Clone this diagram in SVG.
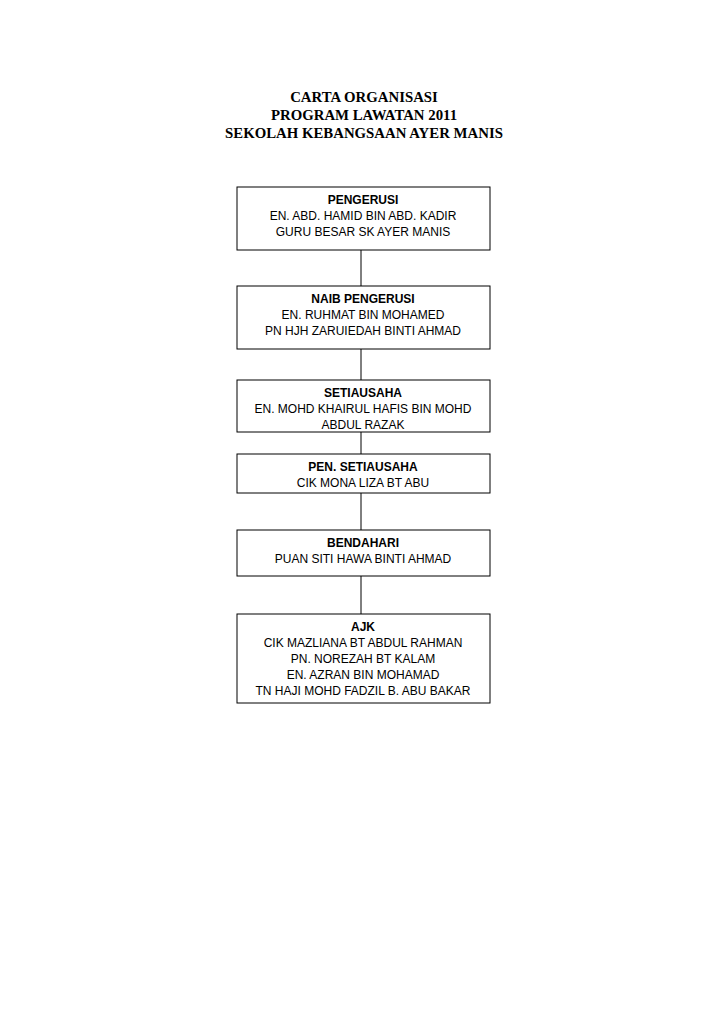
<svg xmlns="http://www.w3.org/2000/svg" width="728" height="1030" viewBox="0 0 728 1030">
<style>
.t{font-family:"Liberation Serif",serif;font-weight:bold;font-size:14.8px;text-anchor:middle}
.b{fill:#fff;stroke:#000;stroke-width:1}
.n{font-family:"Liberation Sans",sans-serif;font-size:12px;text-anchor:middle}
.h{font-weight:bold}
.c{stroke:#000;stroke-width:1;fill:none}
</style>
<rect width="728" height="1030" fill="#fff"/>
<text class="t" x="364" y="102">CARTA ORGANISASI</text>
<text class="t" x="364" y="120">PROGRAM LAWATAN 2011</text>
<text class="t" x="364" y="138">SEKOLAH KEBANGSAAN AYER MANIS</text>
<g id="connectors">
<line class="c" x1="361" y1="250" x2="361" y2="286"/>
<line class="c" x1="361" y1="349" x2="361" y2="380"/>
<line class="c" x1="361" y1="432" x2="361" y2="454"/>
<line class="c" x1="361" y1="493" x2="361" y2="530"/>
<line class="c" x1="361" y1="576" x2="361" y2="614"/>
</g>
<g id="pengerusi"><rect class="b" x="237" y="187" width="253" height="63"/>
<text class="n" x="363" y="204"><tspan class="h">PENGERUSI</tspan><tspan x="363" dy="16">EN. ABD. HAMID BIN ABD. KADIR</tspan><tspan x="363" dy="16">GURU BESAR SK AYER MANIS</tspan></text></g>
<g id="naib"><rect class="b" x="237" y="286" width="253" height="63"/>
<text class="n" x="363" y="303"><tspan class="h">NAIB PENGERUSI</tspan><tspan x="363" dy="16">EN. RUHMAT BIN MOHAMED</tspan><tspan x="363" dy="16">PN HJH ZARUIEDAH BINTI AHMAD</tspan></text></g>
<g id="setiausaha"><rect class="b" x="237" y="380" width="253" height="52"/>
<text class="n" x="363" y="397"><tspan class="h">SETIAUSAHA</tspan><tspan x="363" dy="16">EN. MOHD KHAIRUL HAFIS BIN MOHD</tspan><tspan x="363" dy="16">ABDUL RAZAK</tspan></text></g>
<g id="pen"><rect class="b" x="237" y="454" width="253" height="39"/>
<text class="n" x="363" y="471"><tspan class="h">PEN. SETIAUSAHA</tspan><tspan x="363" dy="16">CIK MONA LIZA BT ABU</tspan></text></g>
<g id="bendahari"><rect class="b" x="237" y="530" width="253" height="46"/>
<text class="n" x="363" y="547"><tspan class="h">BENDAHARI</tspan><tspan x="363" dy="16">PUAN SITI HAWA BINTI AHMAD</tspan></text></g>
<g id="ajk"><rect class="b" x="237" y="614" width="253" height="89"/>
<text class="n" x="363" y="631"><tspan class="h">AJK</tspan><tspan x="363" dy="16">CIK MAZLIANA BT ABDUL RAHMAN</tspan><tspan x="363" dy="16">PN. NOREZAH BT KALAM</tspan><tspan x="363" dy="16">EN. AZRAN BIN MOHAMAD</tspan><tspan x="363" dy="16">TN HAJI MOHD FADZIL B. ABU BAKAR</tspan></text></g>
</svg>
